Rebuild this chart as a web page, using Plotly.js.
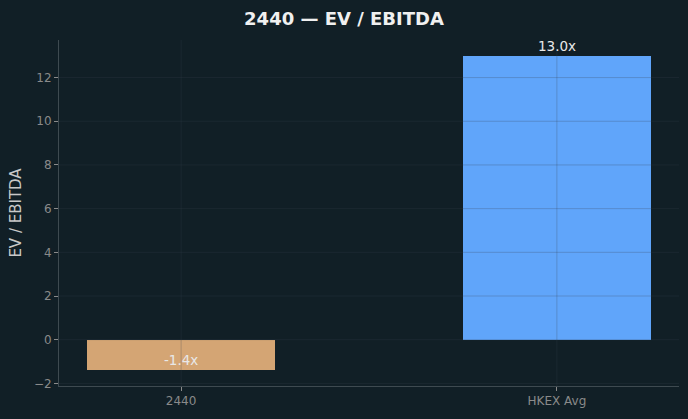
<!DOCTYPE html>
<html>
<head>
<meta charset="utf-8">
<script src="https://cdn.plot.ly/plotly-3.0.1.min.js"></script>
<style>html,body{margin:0;padding:0;background:#111f26;}#chart{width:688px;height:419px;}</style>
</head>
<body>
<div id="chart"></div>
<script>
const categories = ["2440", "HKEX Avg"];
const values = [-1.4, 13.0];
const barColors = ["#d4a574", "#60a5fa"];
const valueLabels = ["-1.4x", "13.0x"];
const yTicks = [-2, 0, 2, 4, 6, 8, 10, 12];

const FONT = "DejaVu Sans, sans-serif";
const gridColor = "rgba(55,68,78,0.32)";

const shapes = [];
yTicks.forEach(v => shapes.push({type:"line", xref:"paper", x0:0, x1:1, yref:"y", y0:v, y1:v, layer:"above", line:{color:gridColor, width:0.8}}));
categories.forEach((c, i) => shapes.push({type:"line", yref:"paper", y0:0, y1:1, xref:"x", x0:i, x1:i, layer:"above", line:{color:gridColor, width:0.8}}));

const annotations = categories.map((c, i) => ({
  x: i, y: values[i], xref: "x", yref: "y", text: valueLabels[i], showarrow: false,
  yanchor: "bottom", yshift: 0, font: {family: FONT, size: 13.5, color: "#e8e8e8"}
}));

Plotly.newPlot("chart", [{
  type: "bar", x: categories, y: values, width: 0.5,
  marker: {color: barColors, line: {width: 0}}, hoverinfo: "skip"
}], {
  width: 688, height: 419,
  paper_bgcolor: "#111f26", plot_bgcolor: "#111f26",
  margin: {l: 59, r: 9, t: 40, b: 33},
  title: {text: "<b>2440 — EV / EBITDA</b>", x: 0.5, xanchor: "center", y: 0.955, yanchor: "middle",
          font: {family: FONT, size: 18, color: "#f0f0f0"}},
  xaxis: {type: "category", range: [-0.325, 1.325], showgrid: false, zeroline: false,
          showline: true, linecolor: "#3e4a50", linewidth: 1,
          ticks: "outside", ticklen: 4, tickcolor: "#8a8a8a", tickwidth: 1,
          tickfont: {family: FONT, size: 12, color: "#8a8a8a"}},
  yaxis: {range: [-2.12, 13.72], tickvals: yTicks, ticktext: yTicks.map(v => v < 0 ? "\u2212" + Math.abs(v) : String(v)),
          showgrid: false, zeroline: false,
          showline: true, linecolor: "#3e4a50", linewidth: 1,
          ticks: "outside", ticklen: 4, tickcolor: "#8a8a8a", tickwidth: 1,
          tickfont: {family: FONT, size: 12, color: "#8a8a8a"},
          title: {text: "EV / EBITDA", standoff: 8, font: {family: FONT, size: 15, color: "#c8c8c8"}}},
  shapes: shapes,
  annotations: annotations,
  showlegend: false, bargap: 0
}, {displayModeBar: false, staticPlot: true});
</script>
</body>
</html>
